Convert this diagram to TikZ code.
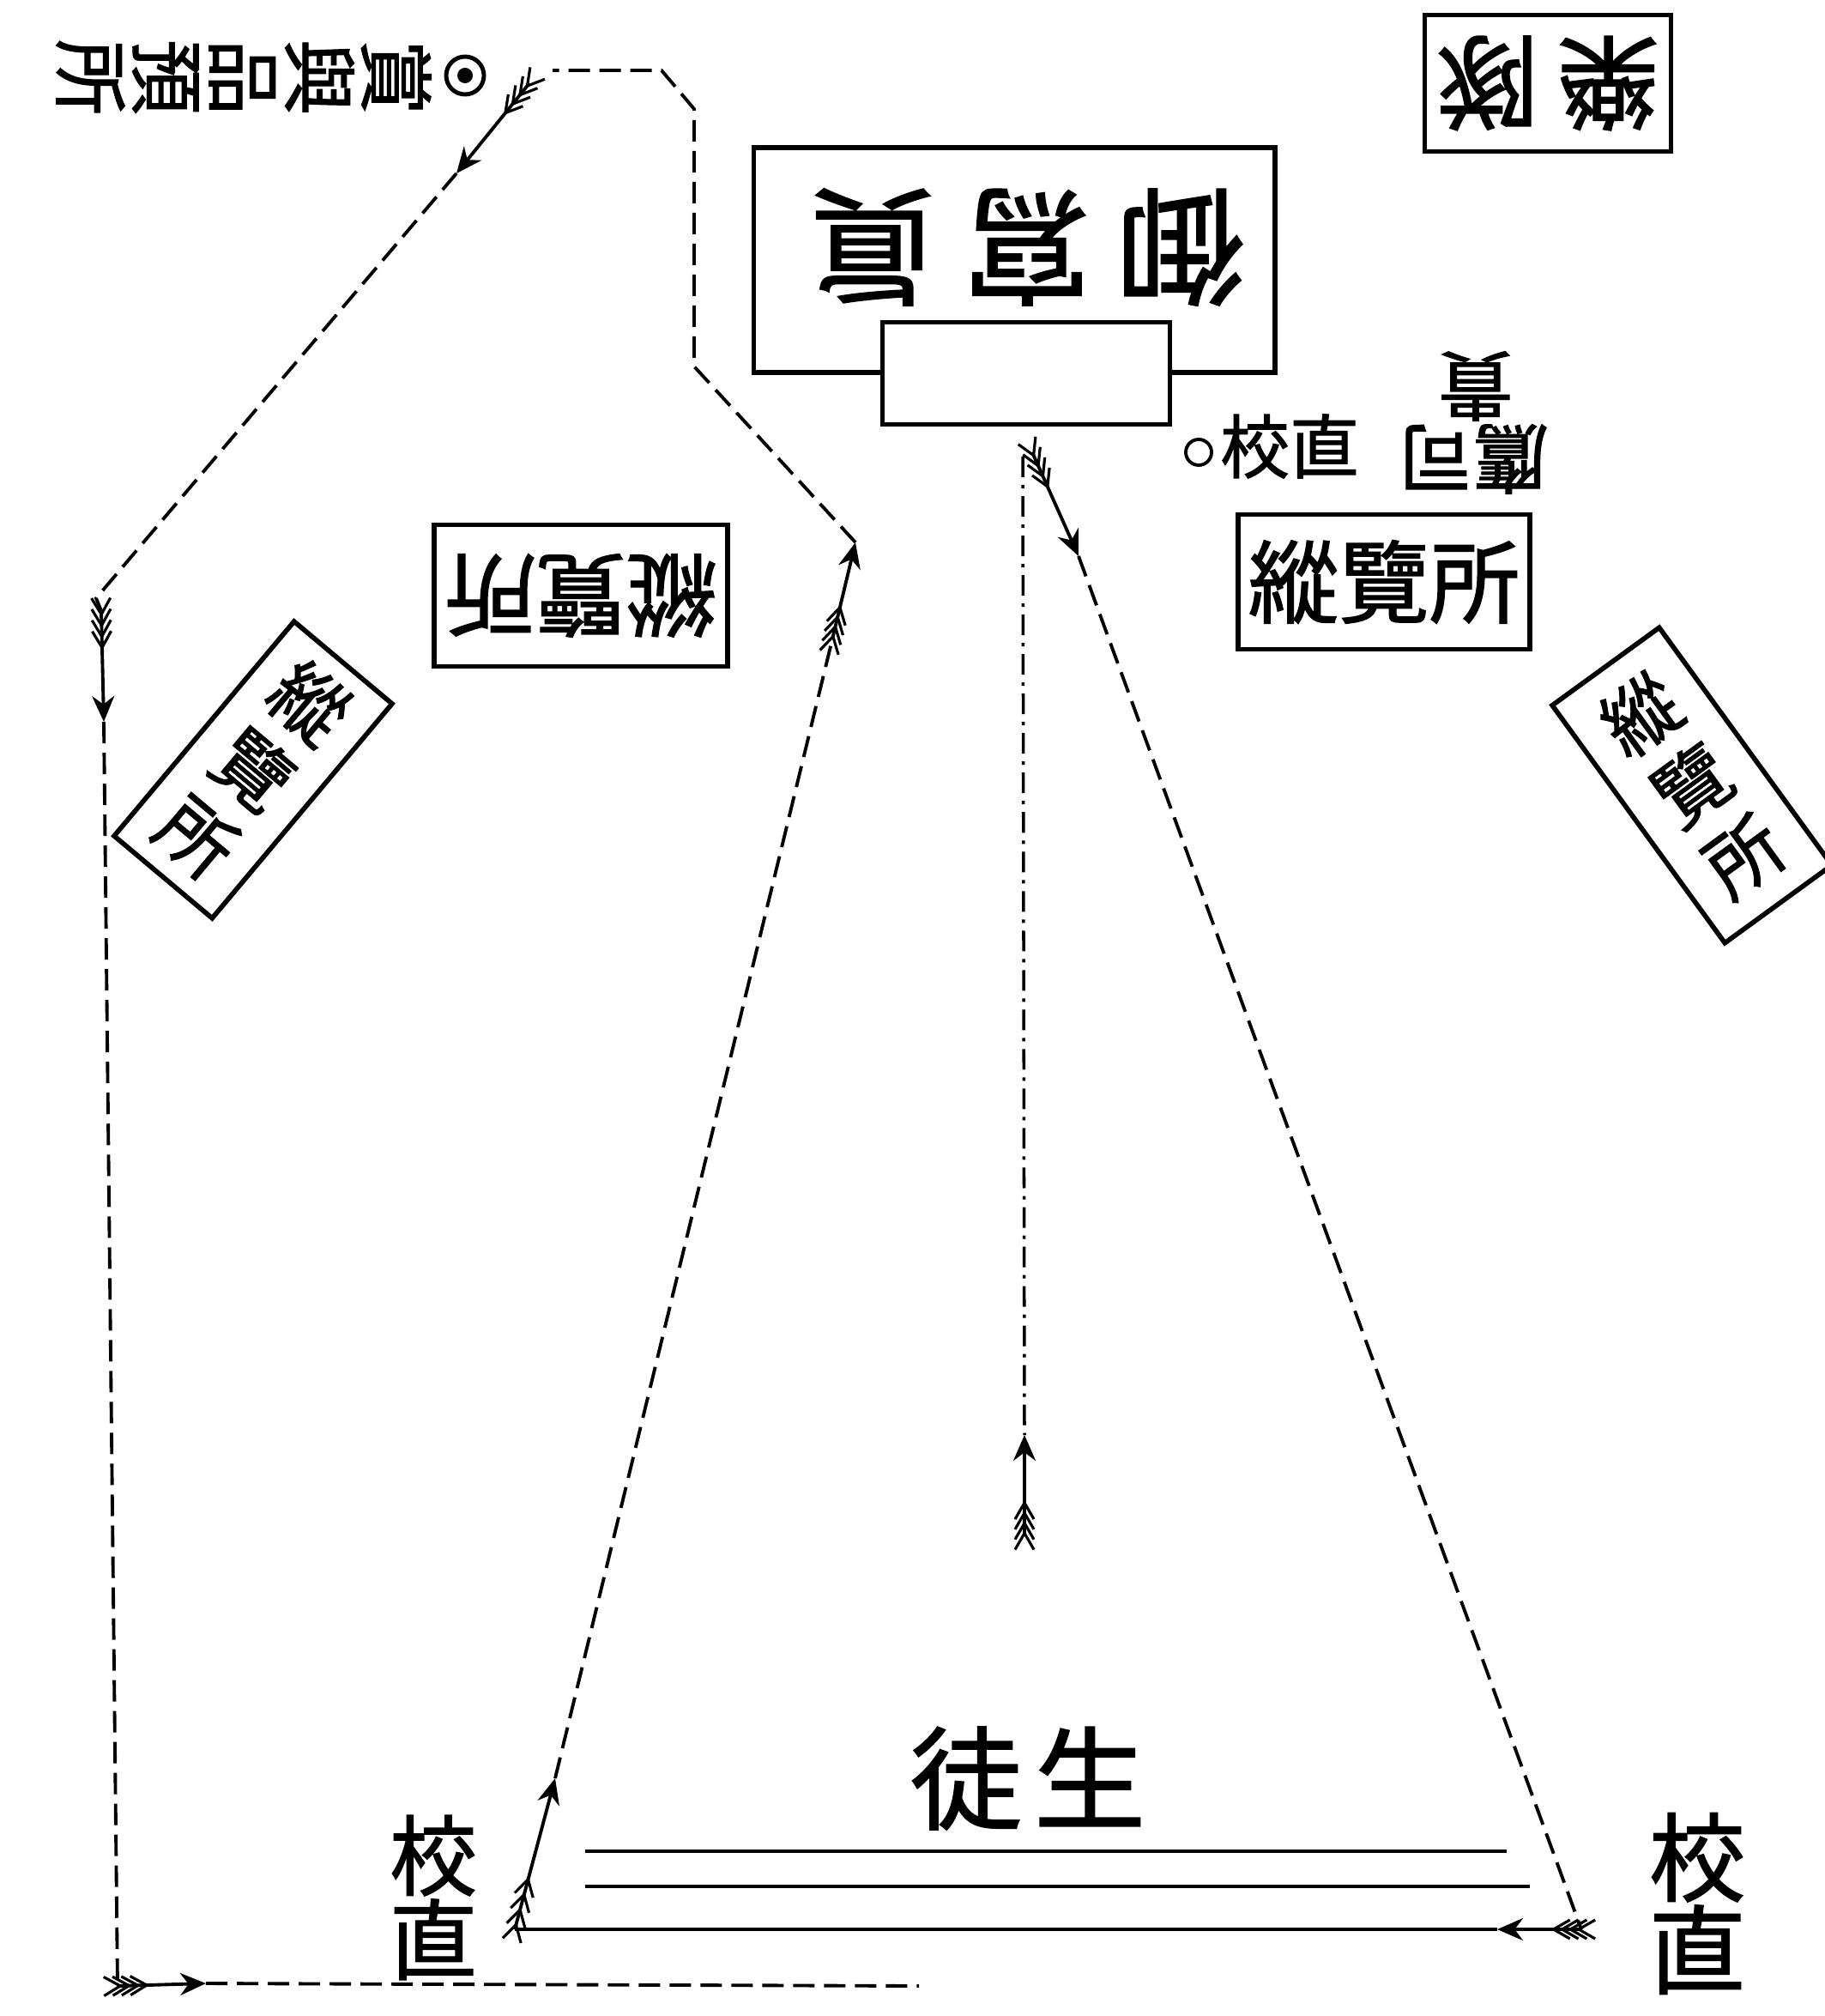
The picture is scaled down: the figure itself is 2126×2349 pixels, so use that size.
\documentclass[tikz,border=0pt]{standalone}
\usepackage{fontspec}
\newfontfamily\cjk[FakeBold=1.3]{Noto Sans CJK JP}
\usetikzlibrary{arrows.meta,calc,positioning}

\newcommand{\cjksize}[2]{\cjk\fontsize{#1}{#2}\selectfont}

\tikzset{
    booth/.style={
        rectangle,
        draw=black,
        line width=1.6pt,
        inner sep=0pt,
        font=\cjksize{30}{36}
    },
    slantbooth/.style={
        booth,
        align=center,
        font=\cjksize{25}{29}
    },
    route/.style={
        line width=1.1pt,
        dash pattern=on 2.5mm off 1.1mm
    },
    axisline/.style={
        line width=1pt,
        dash pattern=on 2.4mm off 0.9mm on 0.4mm off 0.9mm
    },
    shaft/.style={
        line width=1.1pt,
        -{Stealth[length=3mm,width=2.6mm]}
    },
    barb/.style={
        line width=0.9pt
    },
    studentrow/.style={
        line width=1pt
    },
    tag/.style={
        inner sep=0pt,
        font=\cjksize{25}{26}
    }
}

% arrow with fletching, from tail #1 to head #2
\newcommand{\feathered}[2]{%
    \draw[shaft] (#1) -- (#2);
    \foreach \k in {0.03,0.13,0.23,0.33}{
        \coordinate (fp) at ($(#1)!\k!(#2)$);
        \draw[barb] (fp) -- ($(fp)!2.2mm!150:(#2)$);
        \draw[barb] (fp) -- ($(fp)!2.2mm!-150:(#2)$);
    }
}

\begin{document}
\begin{tikzpicture}[x=0.01cm,y=-0.01cm]
\useasboundingbox (0,0) rectangle (2126,2349);

% stands
\node[booth, minimum width=6.07cm, minimum height=2.62cm] (shrine) at (1182,303) {};
\node[booth, fill=white, minimum width=3.35cm, minimum height=1.19cm] (table) at (1196,435) {};
\node[tag, font=\cjksize{42}{44}, rotate=180] (shrinelabel) at (1197,288) {御\hspace{9pt}寫\hspace{9pt}眞};
\node[booth, minimum width=2.87cm, minimum height=1.59cm, rotate=180, font=\cjksize{34}{36}] (band) at (1804,97) {樂\hspace{6pt}隊};
\node[booth, minimum width=3.42cm, minimum height=1.65cm, rotate=180] (standC) at (677,694) {縱覽所};
\node[booth, minimum width=3.40cm, minimum height=1.57cm] (standR) at (1613,678) {縱覽所};
\node[slantbooth, minimum width=1.49cm, minimum height=3.26cm, rotate=-40] (standL) at (295,897) {縱\\覽\\所};
\node[slantbooth, minimum width=1.54cm, minimum height=3.42cm, rotate=36] (standFR) at (1972,915) {縱\\覽\\所};

% marks and labels
\node[circle, draw, line width=1.4pt, minimum size=4.4mm, inner sep=0pt] (prizemark) at (542,88) {};
\fill (prizemark.center) circle (0.9mm);
\node[tag, align=center, rotate=-90, font=\cjksize{25}{25.3}] (prize) at (284,90) {賞\\與\\品\\預\\所};
\node[circle, draw, line width=1.1pt, minimum size=3mm, inner sep=0pt] (dutymark) at (1397,527) {};
\node[tag, font=\cjksize{23}{24}] (dutyT) at (1503,520) {校直};
\node[tag, rotate=180] (noble) at (1717,535) {鷹司};
\node[tag, rotate=180] (noble2) at (1720,450) {貴};

\node[tag, font=\cjksize{37}{40}] (pupils) at (1198,2072) {徒\hspace{4pt}生};
\node[tag, align=center, font=\cjksize{29}{24}] (dutyL) at (505,2211) {校\\直};
\node[tag, align=center, font=\cjksize{32}{29}] (dutyR) at (1978,2218) {校\\直};

% route points
\coordinate (a0) at (600,2248);
\coordinate (up1) at (647,2072);
\coordinate (up2t) at (970,745);
\coordinate (up2h) at (997,632);
\coordinate (k1) at (809,427);
\coordinate (k2) at (809,127);
\coordinate (k3) at (771,82);
\coordinate (k4) at (644,82);
\coordinate (tlt) at (617,97);
\coordinate (tlh) at (532,202);
\coordinate (k5) at (112,697);
\coordinate (lt) at (118,712);
\coordinate (lh) at (121,841);
\coordinate (k6) at (137,2314);
\coordinate (bh) at (240,2311);
\coordinate (k7) at (1071,2314);
\coordinate (rt) at (1203,527);
\coordinate (rh) at (1257,648);
\coordinate (k8) at (1843,2248);
\coordinate (r2h) at (1745,2248);
\coordinate (c0) at (1192,532);
\coordinate (ct) at (1194,1790);
\coordinate (ch) at (1194,1672);

\coordinate (rowA1) at (682,2157);
\coordinate (rowA2) at (1756,2157);
\coordinate (rowB1) at (682,2198);
\coordinate (rowB2) at (1783,2198);

% routes
\draw[route] (up1) -- (up2t);
\draw[route] (up2h) -- (k1) -- (k2) -- (k3) -- (k4);
\draw[route] (tlh) -- (k5) -- (lt);
\draw[route] (lh) -- (k6);
\draw[route] (bh) -- (k7);
\draw[route] (rh) -- (k8);
\draw[studentrow] (r2h) -- (a0);
\draw[axisline] (c0) -- (ch);

\draw[studentrow] (rowA1) -- (rowA2);
\draw[studentrow] (rowB1) -- (rowB2);

\feathered{a0}{up1}
\feathered{up2t}{up2h}
\feathered{tlt}{tlh}
\feathered{lt}{lh}
\feathered{k6}{bh}
\feathered{rt}{rh}
\feathered{k8}{r2h}
\feathered{ct}{ch}

\end{tikzpicture}
\end{document}
